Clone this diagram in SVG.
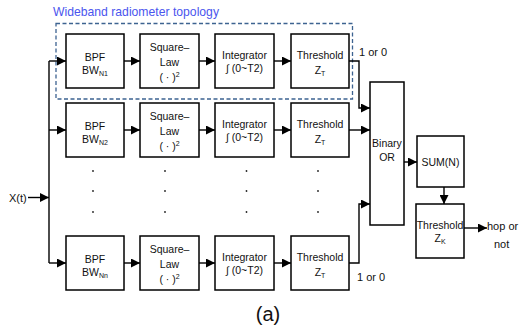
<svg xmlns="http://www.w3.org/2000/svg" width="527" height="327" viewBox="0 0 527 327">
<defs>
<marker id="ah" markerUnits="userSpaceOnUse" markerWidth="9" markerHeight="9" refX="9" refY="4.5" orient="auto">
<path d="M0,0 L9,4.5 L0,9 z" fill="#000"/>
</marker>
<style>
.box{fill:#fff;stroke:#000;stroke-width:1.5}
.c{fill:none;stroke:#000;stroke-width:1.4}
.a{marker-end:url(#ah)}
text{font-family:"Liberation Sans",Arial,sans-serif;font-size:10.5px;fill:#111}
.m{text-anchor:middle}
.sub{font-size:7px}
.lbl{font-size:11px}
.dot{fill:#222}
</style>
</defs>
<rect width="527" height="327" fill="#fff"/>
<text x="53" y="16" style="font-size:12.2px;fill:#4a55ee">Wideband radiometer topology</text>
<rect x="56" y="23.5" width="296.5" height="75.5" fill="none" stroke="#3d6391" stroke-width="1.3" stroke-dasharray="4,2.5"/>

<g id="connectors">
<path class="c a" d="M28,197.5 H49"/>
<path class="c" d="M49,61 V263"/>
<path class="c a" d="M49,61 H66"/>
<path class="c a" d="M49,130 H66"/>
<path class="c a" d="M49,263 H66"/>
<path class="c a" d="M124,61 H140"/>
<path class="c a" d="M199,61 H215"/>
<path class="c a" d="M274,61 H291"/>
<path class="c a" d="M124,130 H140"/>
<path class="c a" d="M199,130 H215"/>
<path class="c a" d="M274,130 H291"/>
<path class="c a" d="M124,263 H140"/>
<path class="c a" d="M199,263 H215"/>
<path class="c a" d="M274,263 H291"/>
<path class="c a" d="M349,61 H359 V108 H370"/>
<path class="c a" d="M349,130 H370"/>
<path class="c a" d="M349,263 H359 V204 H370"/>
<path class="c a" d="M404,162 H417"/>
<path class="c a" d="M444,187 V204"/>
<path class="c a" d="M464,228 H487"/>
</g>

<g id="bpf1"><rect class="box" x="66" y="34" width="58" height="54"/><text class="m" x="95" y="60.5">BPF</text><text class="m" x="95" y="74">BW<tspan class="sub" dy="2">N1</tspan></text></g>
<g id="sq1"><rect class="box" x="140" y="34" width="59" height="54"/><text class="m" x="169.5" y="50.5">Square–</text><text class="m" x="169.5" y="66">Law</text><text class="m" x="169.5" y="80.5">( · )<tspan class="sub" dy="-4">2</tspan></text></g>
<g id="int1"><rect class="box" x="215" y="34" width="59" height="54"/><text class="m" x="244.5" y="59">Integrator</text><text class="m" x="244.5" y="72">∫ (0~T2)</text></g>
<g id="thr1"><rect class="box" x="291" y="34" width="58" height="54"/><text class="m" x="320" y="59">Threshold</text><text class="m" x="320" y="74">Z<tspan class="sub" dy="2">T</tspan></text></g>

<g id="bpf2"><rect class="box" x="66" y="103" width="58" height="54"/><text class="m" x="95" y="129.5">BPF</text><text class="m" x="95" y="143">BW<tspan class="sub" dy="2">N2</tspan></text></g>
<g id="sq2"><rect class="box" x="140" y="103" width="59" height="54"/><text class="m" x="169.5" y="119.5">Square–</text><text class="m" x="169.5" y="135">Law</text><text class="m" x="169.5" y="149.5">( · )<tspan class="sub" dy="-4">2</tspan></text></g>
<g id="int2"><rect class="box" x="215" y="103" width="59" height="54"/><text class="m" x="244.5" y="128">Integrator</text><text class="m" x="244.5" y="141">∫ (0~T2)</text></g>
<g id="thr2"><rect class="box" x="291" y="103" width="58" height="54"/><text class="m" x="320" y="128">Threshold</text><text class="m" x="320" y="143">Z<tspan class="sub" dy="2">T</tspan></text></g>

<g id="bpf3"><rect class="box" x="66" y="236" width="58" height="54"/><text class="m" x="95" y="262.5">BPF</text><text class="m" x="95" y="276">BW<tspan class="sub" dy="2">Nn</tspan></text></g>
<g id="sq3"><rect class="box" x="140" y="236" width="59" height="54"/><text class="m" x="169.5" y="252.5">Square–</text><text class="m" x="169.5" y="268">Law</text><text class="m" x="169.5" y="282.5">( · )<tspan class="sub" dy="-4">2</tspan></text></g>
<g id="int3"><rect class="box" x="215" y="236" width="59" height="54"/><text class="m" x="244.5" y="261">Integrator</text><text class="m" x="244.5" y="274">∫ (0~T2)</text></g>
<g id="thr3"><rect class="box" x="291" y="236" width="58" height="54"/><text class="m" x="320" y="261">Threshold</text><text class="m" x="320" y="276">Z<tspan class="sub" dy="2">T</tspan></text></g>

<g id="dots">
<circle class="dot" cx="93" cy="171" r="0.9"/><circle class="dot" cx="93" cy="191" r="0.9"/><circle class="dot" cx="93" cy="212" r="0.9"/>
<circle class="dot" cx="165" cy="171" r="0.9"/><circle class="dot" cx="165" cy="191" r="0.9"/><circle class="dot" cx="165" cy="212" r="0.9"/>
<circle class="dot" cx="246.5" cy="171" r="0.9"/><circle class="dot" cx="246.5" cy="191" r="0.9"/><circle class="dot" cx="246.5" cy="212" r="0.9"/>
<circle class="dot" cx="318" cy="171" r="0.9"/><circle class="dot" cx="318" cy="191" r="0.9"/><circle class="dot" cx="318" cy="212" r="0.9"/>
</g>

<g id="or"><rect class="box" x="370" y="82" width="34" height="143"/><text class="m" x="387" y="147">Binary</text><text class="m" x="387" y="161">OR</text></g>
<g id="sum"><rect class="box" x="417" y="136" width="47" height="51"/><text class="m" x="440.5" y="165.5">SUM(N)</text></g>
<g id="thrk"><rect class="box" x="416" y="204" width="48" height="54"/><text class="m" x="440" y="229">Threshold</text><text class="m" x="440" y="242">Z<tspan class="sub" dy="2">K</tspan></text></g>

<text class="lbl" x="359" y="56">1 or 0</text>
<text class="lbl" x="357" y="281">1 or 0</text>
<text class="lbl" x="9" y="201.5">X(t)</text>
<text class="lbl" x="487" y="230">hop or</text>
<text class="lbl" x="494" y="248">not</text>
<text class="m" x="268" y="321" style="font-size:20px">(a)</text>
</svg>
